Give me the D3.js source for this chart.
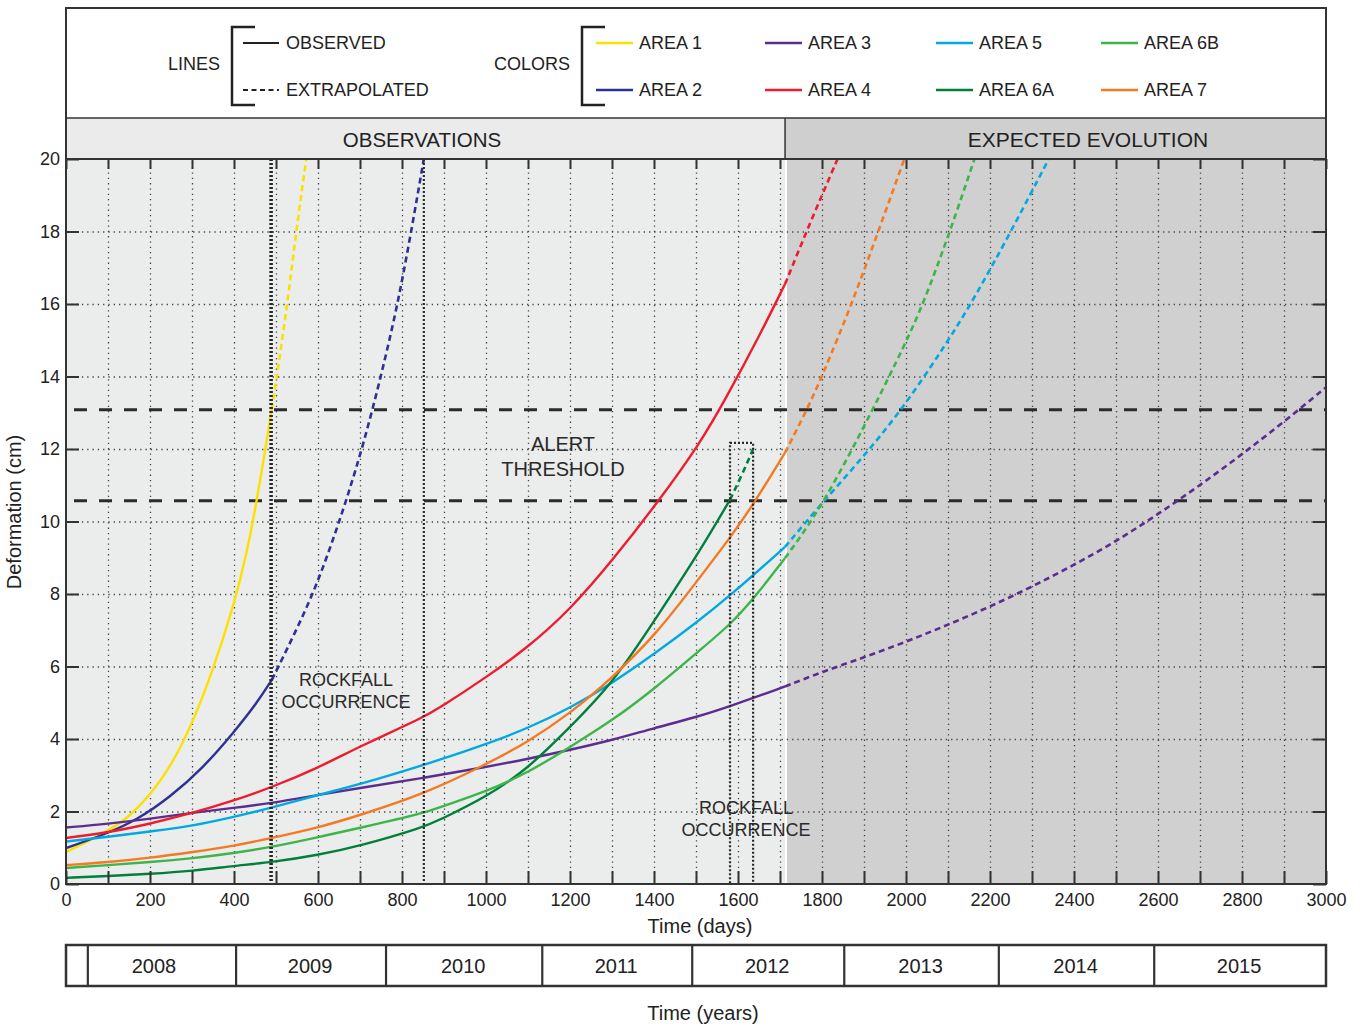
<!DOCTYPE html>
<html>
<head>
<meta charset="utf-8">
<script src="https://cdn.jsdelivr.net/npm/d3@7/dist/d3.min.js"></script>
<style>
  body { margin: 0; background: #fff; }
  svg { display: block; font-family: "Liberation Sans", Arial, Helvetica, sans-serif; }
</style>
</head>
<body>
<svg id="chart" width="1361" height="1026"></svg>
<script>
// ---- Data: deformation (cm) versus time (days) for each monitored area ----
const areaNames  = ["AREA 1", "AREA 2", "AREA 3", "AREA 4", "AREA 5", "AREA 6A", "AREA 6B", "AREA 7"];
const areaColors = ["#fbe100", "#2e3192", "#5b2d8e", "#ed1c2e", "#00a9e2", "#007f3d", "#3db54a", "#f47a22"];

// Observed portions [day, cm]
const area1Observed = [[0,0.88],[100,1.45],[150,1.85],[200,2.45],[250,3.25],[300,4.4],[350,5.9],[400,7.7],[430,9.1],[455,10.6],[490,13.1]];
const area2Observed = [[0,0.99],[100,1.4],[169,1.77],[248,2.4],[326,3.2],[398,4.16],[455,5.0],[490,5.63]];
const area3Observed = [[0,1.56],[100,1.66],[200,1.8],[302,1.97],[400,2.1],[490,2.23],[597,2.45],[700,2.65],[850,2.92],[1000,3.23],[1100,3.45],[1200,3.7],[1300,3.97],[1400,4.3],[1500,4.6],[1581,4.9],[1712,5.45]];
const area4Observed = [[0,1.27],[100,1.42],[200,1.66],[302,1.96],[400,2.3],[490,2.67],[600,3.2],[700,3.8],[852,4.6],[890,4.86],[1000,5.7],[1097,6.5],[1200,7.56],[1302,8.94],[1407,10.5],[1510,12.16],[1569,13.35],[1650,15.1],[1712,16.55]];
const area5Observed = [[0,1.17],[100,1.3],[200,1.45],[302,1.6],[400,1.85],[490,2.1],[600,2.46],[700,2.75],[852,3.28],[1000,3.85],[1100,4.3],[1200,4.85],[1302,5.55],[1407,6.4],[1500,7.2],[1581,7.95],[1712,9.3]];
const area6AObserved = [[0,0.17],[100,0.22],[200,0.28],[302,0.36],[400,0.5],[490,0.6],[600,0.8],[700,1.05],[852,1.57],[890,1.77],[1000,2.4],[1097,3.15],[1200,4.33],[1302,5.54],[1407,7.37],[1510,9.2],[1581,10.6]];
const area6BObserved = [[0,0.44],[100,0.52],[200,0.6],[302,0.71],[400,0.85],[490,1.02],[600,1.29],[700,1.55],[852,1.95],[890,2.12],[1000,2.55],[1097,3.05],[1200,3.78],[1302,4.52],[1407,5.44],[1510,6.46],[1581,7.15],[1636,7.85],[1712,8.99]];
const area7Observed = [[0,0.52],[100,0.6],[200,0.72],[302,0.88],[400,1.05],[490,1.27],[600,1.55],[700,1.9],[852,2.48],[1000,3.3],[1097,3.9],[1200,4.7],[1302,5.7],[1407,6.91],[1510,8.47],[1581,9.55],[1636,10.46],[1712,11.9]];

// Extrapolated portions [day, cm]
const area1Extrapolated = [[490,13.1],[502,14],[527,16],[548,18],[572,20]];
const area2Extrapolated = [[490,5.63],[540,6.8],[590,8.05],[630,9.3],[668,10.6],[710,12.2],[752,14.1],[790,16],[822,18],[852,20]];
const area3Extrapolated = [[1712,5.45],[1800,5.85],[1900,6.25],[2000,6.68],[2100,7.15],[2200,7.65],[2300,8.2],[2400,8.8],[2500,9.45],[2600,10.2],[2700,11.0],[2800,11.85],[2900,12.75],[3000,13.7]];
const area4Extrapolated = [[1712,16.55],[1763,18],[1800,19],[1837,20]];
const area5Extrapolated = [[1712,9.3],[1802,10.54],[1900,11.8],[1993,13.13],[2093,14.85],[2160,16.1],[2250,18.0],[2340,20]];
const area6AExtrapolated = [[1581,10.6],[1610,11.3],[1636,12.0]];
const area6BExtrapolated = [[1712,8.99],[1800,10.4],[1921,13.08],[1998,14.9],[2041,16.0],[2105,18.0],[2163,20]];
const area7Extrapolated = [[1712,11.9],[1764,13.08],[1800,14.0],[1871,16.0],[1934,18.0],[1996,20]];

const observedSets = [area1Observed, area2Observed, area3Observed, area4Observed, area5Observed, area6AObserved, area6BObserved, area7Observed];
const extrapolatedSets = [area1Extrapolated, area2Extrapolated, area3Extrapolated, area4Extrapolated, area5Extrapolated, area6AExtrapolated, area6BExtrapolated, area7Extrapolated];

// Alert threshold band (cm), end of observation period (day)
const alertThresholds = [10.57, 13.08];
const observationEnd = 1712;

// Rockfall windows: [start day, end day, top cm]
const rockfallWindows = [[490, 852, 20], [1581, 1636, 12.17]];

// Axis ticks
const dayLabels = d3.range(0, 3001, 200);
const dayMinorTicks = d3.range(0, 3001, 100);
const cmTicks = d3.range(0, 21, 2);

// Calendar years along the day axis
const yearStarts = [52, 405, 762, 1134, 1491, 1853, 2221, 2591];
const yearLabels = ["2008", "2009", "2010", "2011", "2012", "2013", "2014", "2015"];

// ---- Layout ----
const plotLeft = 66, plotRight = 1326, plotTop = 159, plotBottom = 884;
const legendTop = 8, headerTop = 118;
const frameColor = "#333";

const svg = d3.select("#chart");
const x = d3.scaleLinear().domain([0, 3000]).range([plotLeft, plotRight]);
const y = d3.scaleLinear().domain([0, 20]).range([plotBottom, plotTop]);

// Backgrounds of the two periods
svg.append("rect").attr("x", plotLeft).attr("y", plotTop)
  .attr("width", x(observationEnd) - plotLeft).attr("height", plotBottom - plotTop).attr("fill", "#ebecec");
svg.append("rect").attr("x", x(observationEnd) + 2).attr("y", plotTop)
  .attr("width", plotRight - x(observationEnd) - 2).attr("height", plotBottom - plotTop).attr("fill", "#d0d0d0");

// Header band
svg.append("rect").attr("x", plotLeft).attr("y", headerTop)
  .attr("width", x(observationEnd) - plotLeft).attr("height", plotTop - headerTop).attr("fill", "#ebebeb");
svg.append("rect").attr("x", x(observationEnd)).attr("y", headerTop)
  .attr("width", plotRight - x(observationEnd)).attr("height", plotTop - headerTop).attr("fill", "#cfcfcf");
svg.append("line").attr("x1", x(observationEnd)).attr("x2", x(observationEnd))
  .attr("y1", headerTop).attr("y2", plotTop).attr("stroke", frameColor).attr("stroke-width", 1.5);
svg.append("text").attr("x", 422).attr("y", 139)
  .attr("text-anchor", "middle").attr("dominant-baseline", "central")
  .attr("font-size", 20.5).attr("fill", "#222").text("OBSERVATIONS");
svg.append("text").attr("x", 1088).attr("y", 139)
  .attr("text-anchor", "middle").attr("dominant-baseline", "central")
  .attr("font-size", 21).attr("fill", "#222").text("EXPECTED EVOLUTION");

// Dotted grid
const grid = svg.append("g").attr("class", "grid");
grid.append("g").attr("transform", `translate(0,${plotBottom})`)
  .call(d3.axisBottom(x).tickValues(dayMinorTicks.filter(d => d > 0 && d < 3000))
    .tickSize(-(plotBottom - plotTop)).tickFormat(""))
  .call(g => g.select(".domain").remove());
grid.append("g").attr("transform", `translate(${plotLeft},0)`)
  .call(d3.axisLeft(y).tickValues(cmTicks.filter(d => d > 0 && d < 20))
    .tickSize(-(plotRight - plotLeft)).tickFormat(""))
  .call(g => g.select(".domain").remove());
grid.selectAll("line").attr("stroke", "#444").attr("stroke-width", 1.3).attr("stroke-dasharray", "1.3,4");

// Alert threshold lines
svg.selectAll(".threshold").data(alertThresholds).join("line")
  .attr("class", "threshold")
  .attr("x1", plotLeft + 8).attr("x2", plotRight)
  .attr("y1", d => y(d)).attr("y2", d => y(d))
  .attr("stroke", "#2b2b2b").attr("stroke-width", 3).attr("stroke-dasharray", "13,12");

// Curves
svg.append("clipPath").attr("id", "plotClip").append("rect")
  .attr("x", plotLeft).attr("y", plotTop).attr("width", plotRight - plotLeft).attr("height", plotBottom - plotTop);
const line = d3.line().x(d => x(d[0])).y(d => y(d[1])).curve(d3.curveBasis);
const curves = svg.append("g").attr("clip-path", "url(#plotClip)");
curves.selectAll(".extrap").data(extrapolatedSets).join("path")
  .attr("class", "extrap").attr("d", line).attr("fill", "none")
  .attr("stroke", (d, i) => areaColors[i]).attr("stroke-width", 2.6).attr("stroke-dasharray", "6,4");
curves.selectAll(".obs").data(observedSets).join("path")
  .attr("class", "obs").attr("d", line).attr("fill", "none")
  .attr("stroke", (d, i) => areaColors[i]).attr("stroke-width", 2.4);

// Rockfall windows
svg.selectAll(".rockfall").data(rockfallWindows).join("rect")
  .attr("class", "rockfall")
  .attr("x", d => x(d[0])).attr("y", d => y(d[2]))
  .attr("width", d => x(d[1]) - x(d[0])).attr("height", d => plotBottom - y(d[2]))
  .attr("fill", "none").attr("stroke", "#2a2a2a").attr("stroke-width", 2.2).attr("stroke-dasharray", "2,2");
svg.append("line").attr("x1", x(rockfallWindows[0][0]) - 1.5).attr("x2", x(rockfallWindows[0][0]) - 1.5)
  .attr("y1", plotTop).attr("y2", plotBottom)
  .attr("stroke", "#2a2a2a").attr("stroke-width", 2).attr("stroke-dasharray", "2,2");

// Annotations
function twoLine(cx, cy, lines, size, gap) {
  const t = svg.append("text").attr("text-anchor", "middle").attr("font-size", size).attr("fill", "#2a2a2a");
  lines.forEach((s, i) => t.append("tspan").attr("x", cx).attr("y", cy + i * gap).text(s));
}
twoLine(346, 686, ["ROCKFALL", "OCCURRENCE"], 18, 22);
twoLine(746, 814, ["ROCKFALL", "OCCURRENCE"], 18, 22);
twoLine(563, 451, ["ALERT", "THRESHOLD"], 20, 25);

// Inner ticks on all four sides
const tickStyle = g => g.call(s => s.select(".domain").remove())
  .selectAll("line").attr("stroke", frameColor).attr("stroke-width", 2);
svg.append("g").attr("transform", `translate(0,${plotBottom})`)
  .call(d3.axisBottom(x).tickValues(dayMinorTicks).tickSize(-13).tickFormat("")).call(tickStyle);
svg.append("g").attr("transform", `translate(0,${plotTop})`)
  .call(d3.axisTop(x).tickValues(dayMinorTicks).tickSize(-10).tickFormat("")).call(tickStyle);
svg.append("g").attr("transform", `translate(${plotLeft},0)`)
  .call(d3.axisLeft(y).tickValues(cmTicks).tickSize(-13).tickFormat("")).call(tickStyle);
svg.append("g").attr("transform", `translate(${plotRight},0)`)
  .call(d3.axisRight(y).tickValues(cmTicks).tickSize(-13).tickFormat("")).call(tickStyle);

// Tick labels
const labelStyle = g => {
  g.select(".domain").remove();
  g.selectAll("line").remove();
  g.selectAll("text").attr("font-size", 18).attr("fill", "#222")
    .attr("font-family", "'Liberation Sans', Arial, sans-serif");
};
svg.append("g").attr("transform", `translate(0,${plotBottom})`)
  .call(d3.axisBottom(x).tickValues(dayLabels).tickSize(0).tickPadding(9).tickFormat(d3.format("d")))
  .call(labelStyle);
svg.append("g").attr("transform", `translate(${plotLeft},0)`)
  .call(d3.axisLeft(y).tickValues(cmTicks).tickSize(0).tickPadding(6).tickFormat(d3.format("d")))
  .call(labelStyle);

// Frame
svg.append("rect").attr("x", plotLeft).attr("y", legendTop)
  .attr("width", plotRight - plotLeft).attr("height", plotBottom - legendTop)
  .attr("fill", "none").attr("stroke", frameColor).attr("stroke-width", 2);
svg.append("line").attr("x1", plotLeft).attr("x2", plotRight).attr("y1", headerTop).attr("y2", headerTop)
  .attr("stroke", frameColor).attr("stroke-width", 1.5);
svg.append("line").attr("x1", plotLeft).attr("x2", plotRight).attr("y1", plotTop).attr("y2", plotTop)
  .attr("stroke", frameColor).attr("stroke-width", 2);

// Axis titles
svg.append("text").attr("x", 700).attr("y", 933).attr("text-anchor", "middle")
  .attr("font-size", 20).attr("fill", "#222").text("Time (days)");
svg.append("text").attr("transform", "translate(21,512) rotate(-90)").attr("text-anchor", "middle")
  .attr("font-size", 20).attr("fill", "#222").text("Deformation (cm)");
svg.append("text").attr("x", 703).attr("y", 1020).attr("text-anchor", "middle")
  .attr("font-size", 20).attr("fill", "#222").text("Time (years)");

// Year band
const yearTop = 945, yearBottom = 986;
svg.append("rect").attr("x", plotLeft).attr("y", yearTop).attr("width", plotRight - plotLeft)
  .attr("height", yearBottom - yearTop).attr("fill", "#fff")
  .attr("stroke", frameColor).attr("stroke-width", 2.5);
svg.selectAll(".yearDiv").data(yearStarts).join("line").attr("class", "yearDiv")
  .attr("x1", d => x(d)).attr("x2", d => x(d)).attr("y1", yearTop).attr("y2", yearBottom)
  .attr("stroke", frameColor).attr("stroke-width", 2.2);
const yearEnds = yearStarts.slice(1).concat([3000]);
svg.selectAll(".yearLabel").data(yearLabels).join("text").attr("class", "yearLabel")
  .attr("x", (d, i) => (x(yearStarts[i]) + x(yearEnds[i])) / 2 - (i === 0 ? 8 : 1)).attr("y", 966)
  .attr("text-anchor", "middle").attr("dominant-baseline", "central")
  .attr("font-size", 20).attr("fill", "#222").text(d => d);

// Legend
const legend = svg.append("g").attr("fill", "#222").attr("font-size", 18);
function bracket(bx) {
  legend.append("path").attr("d", `M${bx + 23},27 H${bx} V105 H${bx + 23}`)
    .attr("fill", "none").attr("stroke", "#222").attr("stroke-width", 2.5);
}
legend.append("text").attr("x", 194).attr("y", 64).attr("text-anchor", "middle")
  .attr("dominant-baseline", "central").text("LINES");
bracket(232);
legend.append("line").attr("x1", 243).attr("x2", 279).attr("y1", 43).attr("y2", 43)
  .attr("stroke", "#222").attr("stroke-width", 2);
legend.append("text").attr("x", 286).attr("y", 43).attr("dominant-baseline", "central").text("OBSERVED");
legend.append("line").attr("x1", 243).attr("x2", 279).attr("y1", 90).attr("y2", 90)
  .attr("stroke", "#222").attr("stroke-width", 2).attr("stroke-dasharray", "5,3.5");
legend.append("text").attr("x", 286).attr("y", 90).attr("dominant-baseline", "central").text("EXTRAPOLATED");

legend.append("text").attr("x", 532).attr("y", 64).attr("text-anchor", "middle")
  .attr("dominant-baseline", "central").text("COLORS");
bracket(582);
const legendCols = [596, 765, 936, 1101], legendRows = [43, 90];
const items = legend.selectAll(".item").data(areaNames).join("g").attr("class", "item")
  .attr("transform", (d, i) => `translate(${legendCols[Math.floor(i / 2)]},${legendRows[i % 2]})`);
items.append("line").attr("x1", 0).attr("x2", 37).attr("stroke", (d, i) => areaColors[i]).attr("stroke-width", 2.6);
items.append("text").attr("x", 43).attr("dominant-baseline", "central").text(d => d);
</script>
</body>
</html>
